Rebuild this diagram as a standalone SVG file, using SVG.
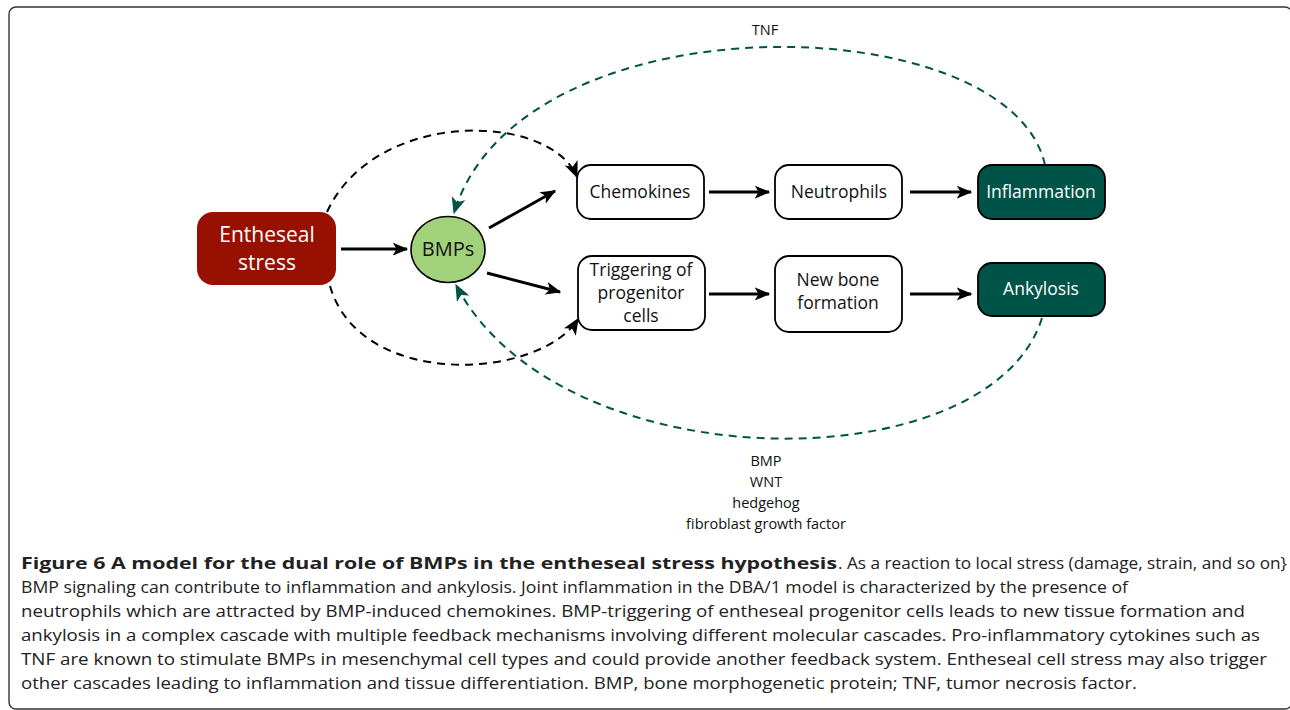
<svg xmlns="http://www.w3.org/2000/svg" width="1290" height="710" viewBox="0 0 1290 710">
<defs>
<marker id="ah" viewBox="0 0 12 10" refX="11" refY="5" markerWidth="5.2" markerHeight="4.4" orient="auto" markerUnits="strokeWidth">
<path d="M0,0 L12,5 L0,10 L3,5 z" fill="#000"/>
</marker>
<marker id="ahd" viewBox="0 0 12 10" refX="11" refY="5" markerWidth="8.5" markerHeight="7" orient="auto" markerUnits="strokeWidth">
<path d="M0,0 L12,5 L0,10 L3,5 z" fill="#000"/>
</marker>
<marker id="aht" viewBox="0 0 12 10" refX="11" refY="5" markerWidth="8.5" markerHeight="7" orient="auto" markerUnits="strokeWidth">
<path d="M0,0 L12,5 L0,10 L3,5 z" fill="#005447"/>
</marker>
<style>
.box{fill:#fff;stroke:#000;stroke-width:1.8}
.dark{fill:#005447;stroke:#000;stroke-width:1.8}
.lbl{font-family:"Open Sans","Noto Sans",sans-serif;font-size:17.5px;fill:#111;text-anchor:middle}
.wl{fill:#fff}
.solid{fill:none;stroke:#000;stroke-width:3;marker-end:url(#ah)}
.bd{fill:none;stroke:#000;stroke-width:2;stroke-dasharray:8 6;marker-end:url(#ahd)}
.td{fill:none;stroke:#005447;stroke-width:2;stroke-dasharray:8 6;marker-end:url(#aht)}
.note{font-family:"Open Sans","Noto Sans",sans-serif;font-size:14.5px;fill:#111;text-anchor:middle}
.cap{font-family:"Open Sans","Noto Sans",sans-serif;font-size:16.5px;fill:#222}
.capb{font-weight:bold}
</style>
</defs>
<rect x="9" y="7" width="1283" height="702" rx="7" fill="none" stroke="#333" stroke-width="1.4"/>

<g id="connectors">
<path class="td" d="M1045,165 C1010,5 520,-5 454,213"/>
<path class="td" d="M1042,318 C990,484 560,484 456,285"/>
<path class="bd" d="M327,212 C375,108 550,112 577,177"/>
<path class="bd" d="M330,286 C360,390 540,380 578,319"/>
<line class="solid" x1="341" y1="249" x2="407" y2="249"/>
<line class="solid" x1="489" y1="228" x2="555" y2="191"/>
<line class="solid" x1="487" y1="273" x2="560" y2="292"/>
<line class="solid" x1="709" y1="192" x2="769" y2="192"/>
<line class="solid" x1="910" y1="192" x2="971" y2="192"/>
<line class="solid" x1="709" y1="294" x2="769" y2="294"/>
<line class="solid" x1="910" y1="294" x2="971" y2="294"/>
</g>

<g id="entheseal">
<rect x="197" y="212" width="139" height="73" rx="16" fill="#981000"/>
<text class="lbl wl" x="267" y="242" style="font-size:21px">Entheseal</text>
<text class="lbl wl" x="267" y="270" style="font-size:21px">stress</text>
</g>
<g id="bmps">
<ellipse cx="448" cy="249.5" rx="37" ry="33" fill="#a1d27b" stroke="#000" stroke-width="1.6"/>
<text class="lbl" x="448" y="256" style="font-size:20px">BMPs</text>
</g>
<g id="chemokines">
<rect class="box" x="577" y="165" width="127" height="54" rx="14"/>
<text class="lbl" x="640" y="198">Chemokines</text>
</g>
<g id="neutrophils">
<rect class="box" x="775" y="165" width="127" height="54" rx="14"/>
<text class="lbl" x="839" y="198">Neutrophils</text>
</g>
<g id="inflammation">
<rect class="dark" x="978" y="165" width="127" height="54" rx="14"/>
<text class="lbl wl" x="1041" y="198">Inflammation</text>
</g>
<g id="triggering">
<rect class="box" x="578" y="256" width="127" height="74" rx="14"/>
<text class="lbl" x="641" y="276">Triggering of</text>
<text class="lbl" x="641" y="299">progenitor</text>
<text class="lbl" x="641" y="322">cells</text>
</g>
<g id="newbone">
<rect class="box" x="775" y="256" width="127" height="76" rx="14"/>
<text class="lbl" x="838" y="286">New bone</text>
<text class="lbl" x="838" y="309">formation</text>
</g>
<g id="ankylosis">
<rect class="dark" x="978" y="263" width="127" height="53" rx="14"/>
<text class="lbl wl" x="1041" y="295">Ankylosis</text>
</g>

<g id="labels">
<text class="note" x="765" y="35">TNF</text>
<text class="note" x="766" y="466">BMP</text>
<text class="note" x="766" y="487">WNT</text>
<text class="note" x="766" y="508">hedgehog</text>
<text class="note" x="766" y="529">fibroblast growth factor</text>
</g>

<g id="caption">
<text class="cap capb" x="21" y="569" textLength="816" lengthAdjust="spacingAndGlyphs">Figure 6 A model for the dual role of BMPs in the entheseal stress hypothesis</text>
<text class="cap" x="838" y="569" textLength="449" lengthAdjust="spacingAndGlyphs">. As a reaction to local stress (damage, strain, and so on}</text>
<text class="cap" x="21" y="593" textLength="1107" lengthAdjust="spacingAndGlyphs">BMP signaling can contribute to inflammation and ankylosis. Joint inflammation in the DBA/1 model is characterized by the presence of</text>
<text class="cap" x="21" y="617" textLength="1224" lengthAdjust="spacingAndGlyphs">neutrophils which are attracted by BMP-induced chemokines. BMP-triggering of entheseal progenitor cells leads to new tissue formation and</text>
<text class="cap" x="21" y="641" textLength="1239" lengthAdjust="spacingAndGlyphs">ankylosis in a complex cascade with multiple feedback mechanisms involving different molecular cascades. Pro-inflammatory cytokines such as</text>
<text class="cap" x="21" y="665" textLength="1246" lengthAdjust="spacingAndGlyphs">TNF are known to stimulate BMPs in mesenchymal cell types and could provide another feedback system. Entheseal cell stress may also trigger</text>
<text class="cap" x="21" y="689" textLength="1116" lengthAdjust="spacingAndGlyphs">other cascades leading to inflammation and tissue differentiation. BMP, bone morphogenetic protein; TNF, tumor necrosis factor.</text>
</g>
</svg>
